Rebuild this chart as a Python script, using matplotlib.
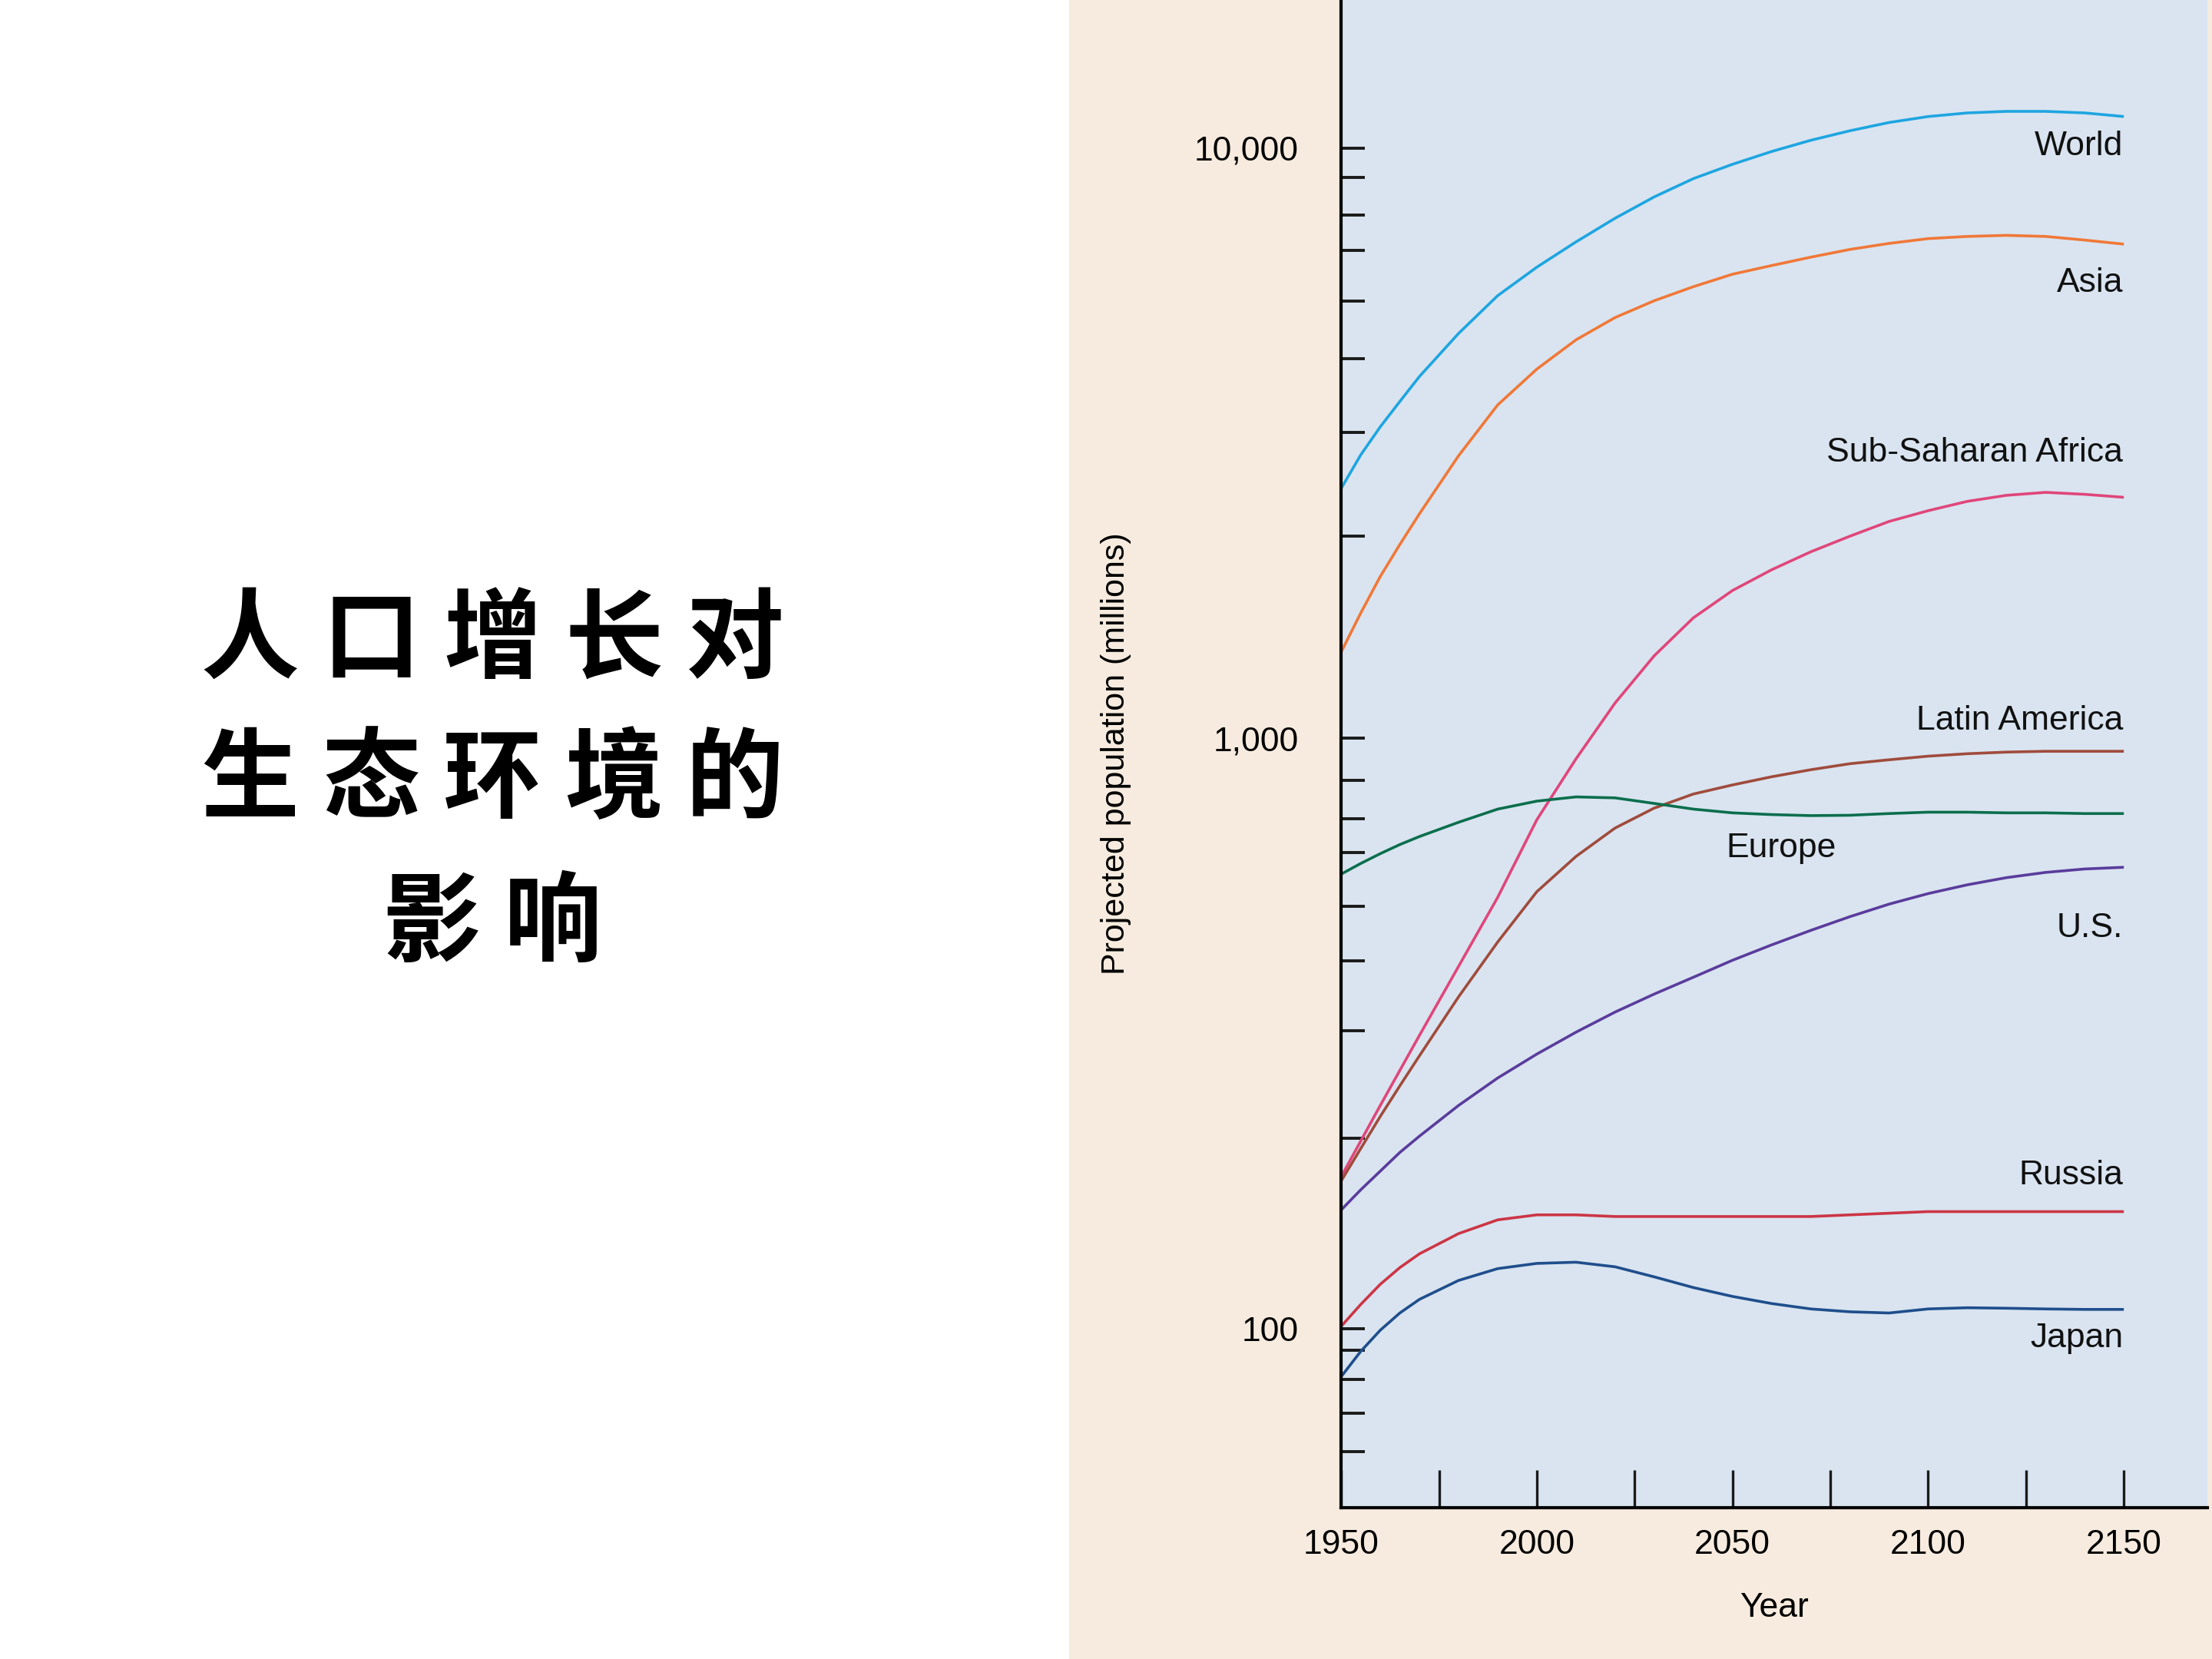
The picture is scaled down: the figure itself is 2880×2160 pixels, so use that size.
# Projected population by region, log scale, with a Chinese title panel on the left
import matplotlib.pyplot as plt
from matplotlib.patches import Rectangle
from matplotlib.ticker import FixedLocator, NullFormatter

plt.rcParams['font.family'] = ['Liberation Sans', 'DejaVu Sans']

# data (millions)
years = [1950, 1955, 1960, 1965, 1970, 1980, 1990, 2000, 2010, 2020, 2030, 2040,
         2050, 2060, 2070, 2080, 2090, 2100, 2110, 2120, 2130, 2140, 2150]
world = [2650, 3020, 3370, 3720, 4100, 4850, 5620, 6280, 6930, 7600, 8260, 8870,
         9380, 9860, 10300, 10690, 11040, 11300, 11460, 11530, 11530, 11460, 11300]
asia = [1400, 1630, 1880, 2130, 2400, 3010, 3670, 4220, 4730, 5160, 5510, 5820,
        6110, 6320, 6530, 6730, 6890, 7020, 7080, 7110, 7080, 6980, 6870]
ss_africa = [181, 208, 239, 274, 314, 411, 538, 728, 923, 1148, 1380, 1600,
             1780, 1930, 2070, 2200, 2330, 2430, 2520, 2580, 2610, 2590, 2560]
latin_am = [178, 202, 229, 258, 290, 365, 452, 550, 631, 705, 762, 805,
            834, 861, 885, 906, 920, 933, 942, 948, 951, 951, 951]
europe = [589, 614, 638, 661, 682, 721, 759, 783, 796, 793, 776, 759,
          748, 743, 740, 741, 746, 750, 750, 748, 748, 746, 746]
us = [159, 172, 185, 199, 212, 239, 266, 292, 318, 344, 369, 394,
      421, 447, 473, 499, 524, 546, 565, 581, 593, 601, 605]
russia = [101, 110, 119, 127, 134, 145, 153, 156, 156, 155, 155, 155,
          155, 155, 155, 156, 157, 158, 158, 158, 158, 158, 158]
japan = [83, 91.6, 99.5, 106.4, 112.2, 120.8, 126.5, 129.1, 129.7, 127.4, 122.5, 117.5,
         113.5, 110.4, 108.1, 106.9, 106.4, 108.1, 108.6, 108.4, 108.1, 107.9, 107.9]

series = [world, asia, ss_africa, latin_am, europe, us, russia, japan]
colors = ['#1ea5e0', '#f07838', '#e0467a', '#a04b3c', '#0b6e4c', '#5a3c9c', '#cc3545', '#1f4e8c']

# curve labels: name, x (year), y (millions), alignment
label_names = ['World', 'Asia', 'Sub-Saharan Africa', 'Latin America', 'Europe', 'U.S.', 'Russia', 'Japan']
label_x = [2149.8, 2149.8, 2149.8, 2149.8, 2062.5, 2149.8, 2149.8, 2149.8]
label_y = [10060, 5900, 3050, 1070, 652, 477, 182, 96.4]
label_ha = ['right', 'right', 'right', 'right', 'center', 'right', 'right', 'right']

x_ticks = list(range(1950, 2151, 25))
x_ticklabels = [str(y) if (y - 1950) % 50 == 0 else '' for y in x_ticks]
y_major = [100, 1000, 10000]
y_major_labels = ['100', '1,000', '10,000']
y_minor = [8900, 7700, 6700, 5500, 4400, 3300, 2200,
           850, 730, 640, 520, 420, 320, 210,
           92, 82, 72, 62]

title_lines = ['人口增长对', '生态环境的', '影响']

fig = plt.figure(figsize=(28.8, 21.6), dpi=100)
fig.patch.set_facecolor('white')
fig.add_artist(Rectangle((0.4833, 0), 0.52, 1, transform=fig.transFigure,
                         facecolor='#f6ebde', edgecolor='none', zorder=0))

ax = fig.add_axes([0.6063, 0.0912, 0.3917, 0.9088])
ax.set_facecolor('#d9e4f0')

for vals, c in zip(series, colors):
    ax.plot(years, vals, color=c, lw=2.6, solid_capstyle='butt', solid_joinstyle='round')

ax.set_yscale('log')
ax.set_xlim(1950, 2171.4)
ax.set_ylim(49.8, 17800)

for name, lx, ly, ha in zip(label_names, label_x, label_y, label_ha):
    ax.text(lx, ly, name, ha=ha, va='center', fontsize=32, color='#111111')

ax.set_xticks(x_ticks)
ax.set_xticklabels(x_ticklabels)
ax.yaxis.set_major_locator(FixedLocator(y_major))
ax.set_yticklabels(y_major_labels)
ax.yaxis.set_minor_locator(FixedLocator(y_minor))
ax.yaxis.set_minor_formatter(NullFormatter())

ax.tick_params(axis='x', direction='in', length=35, width=2.4, pad=20,
               labelsize=32, color='#1a1a1a')
ax.tick_params(axis='y', which='both', direction='in', length=22, width=2.8,
               pad=40, labelsize=32, color='#1a1a1a')

for s in ['top', 'right']:
    ax.spines[s].set_visible(False)
for s in ['left', 'bottom']:
    ax.spines[s].set_linewidth(3.0)
    ax.spines[s].set_color('black')

ax.set_xlabel('Year', fontsize=32)
ax.xaxis.set_label_coords(0.5, -0.056)
ax.set_ylabel('Projected population (millions)', fontsize=31)
ax.yaxis.set_label_coords(-0.242, 0.5)

# title, one character at a time for the wide letter spacing
line_y = [1 - 836 / 2160, 1 - 1018 / 2160, 1 - 1205 / 2160]
for line, ty in zip(title_lines, line_y):
    n = len(line)
    for i, ch in enumerate(line):
        tx = (641 + (i - (n - 1) / 2) * 158) / 2880
        fig.text(tx, ty, ch, ha='center', va='center', fontsize=92,
                 family=['Noto Sans CJK SC'], weight='heavy', color='black')

fig.savefig('out.png', dpi=100)
